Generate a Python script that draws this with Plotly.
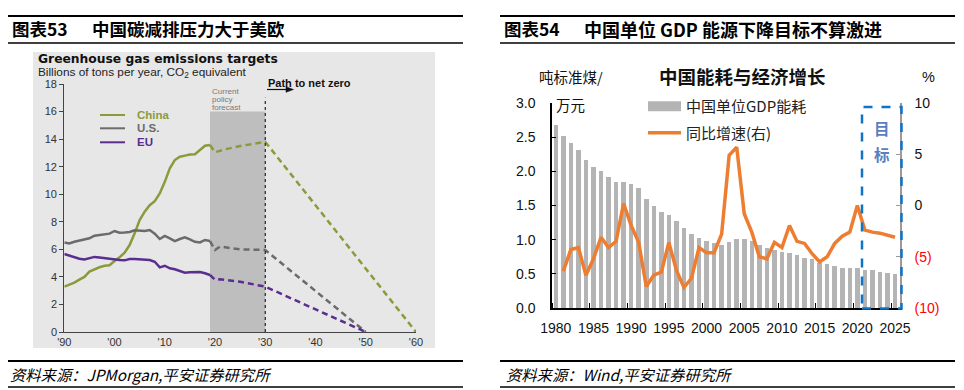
import plotly.graph_objects as go

W, H = 964, 390
def px(x): return x / W
def py(y): return 1 - y / H

# ---------------- Left chart data (Greenhouse gas emissions) ----------------
hist_years = list(range(1990, 2020))
china_hist = [3.29, 3.45, 3.58, 3.8, 4.0, 4.38, 4.55, 4.7, 4.81, 4.85,
              5.15, 5.42, 5.76, 6.31, 7.16, 8.13, 8.73, 9.2, 9.5, 10.06,
              10.9, 11.88, 12.48, 12.72, 12.8, 12.88, 12.9, 13.2, 13.52, 13.57]
us_hist = [6.5, 6.42, 6.55, 6.65, 6.72, 6.8, 6.99, 7.03, 7.08, 7.14,
           7.33, 7.2, 7.22, 7.26, 7.38, 7.38, 7.33, 7.4, 7.14, 6.75,
           6.97, 6.8, 6.6, 6.75, 6.87, 6.72, 6.55, 6.5, 6.68, 6.6]
eu_hist = [5.66, 5.55, 5.42, 5.32, 5.27, 5.35, 5.45, 5.4, 5.35, 5.27,
           5.22, 5.22, 5.2, 5.3, 5.3, 5.27, 5.27, 5.22, 5.1, 4.69,
           4.81, 4.62, 4.55, 4.45, 4.3, 4.33, 4.35, 4.35, 4.26, 4.14]
china_fc_years = [2019, 2020, 2022, 2025, 2030, 2060]
china_fc = [13.57, 13.05, 13.26, 13.5, 13.8, 0]
us_fc_years = [2019, 2020, 2021, 2025, 2030, 2050]
us_fc = [6.6, 5.95, 6.2, 6.0, 5.95, 0]
eu_fc_years = [2019, 2020, 2021, 2025, 2030, 2050]
eu_fc = [4.14, 3.8, 3.82, 3.65, 3.29, 0]
left_xticks = [1990, 2000, 2010, 2020, 2030, 2040, 2050, 2060]
left_xticklabels = ["'90", "'00", "'10", "'20", "'30", "'40", "'50", "'60"]
left_yticks = [0, 2, 4, 6, 8, 10, 12, 14, 16, 18]

# ---------------- Right chart data (energy intensity) ----------------
years = list(range(1980, 2026))
energy = [2.68, 2.52, 2.41, 2.31, 2.16, 2.06, 2.00, 1.92, 1.85, 1.85,
          1.81, 1.75, 1.60, 1.50, 1.40, 1.36, 1.27, 1.17, 1.09, 1.03,
          0.98, 0.95, 0.92, 0.97, 1.01, 1.01, 0.98, 0.92, 0.885, 0.85,
          0.82, 0.80, 0.77, 0.73, 0.71, 0.66, 0.64, 0.61, 0.59, 0.58,
          0.58, 0.56, 0.555, 0.53, 0.515, 0.50]
growth_years = list(range(1981, 2026))
growth = [-6.4, -4.3, -4.1, -6.8, -5.2, -3.1, -4.1, -3.5, 0.2,
          -1.95, -3.6, -7.9, -6.8, -6.5, -3.6, -6.3, -8.0, -7.1, -4.1,
          -4.6, -4.6, -2.8, 4.9, 5.7, -0.8, -2.6, -5.0, -5.2, -3.6,
          -4.1, -1.95, -3.5, -3.7, -4.7, -5.5, -5.0, -3.7, -3.0, -2.6,
          0.0, -2.4, -2.6, -2.7, -2.9, -3.1]
right_xticks = list(range(1980, 2026, 5))
left2_yticks = [0, 0.5, 1.0, 1.5, 2.0, 2.5, 3.0]
right_yticks = [10, 5, 0, -5, -10]
right_yticklabels = ["10", "5", "0",
                     '<span style="color:#FF0000">(5)</span>',
                     '<span style="color:#FF0000">(10)</span>']

C_CHINA = "#8C9A3C"
C_US = "#6B6B6B"
C_EU = "#5A2D8F"
CJK = "Noto Sans CJK SC"
ARIAL = "Liberation Sans, Arial"
DEJA = "DejaVu Sans"

fig = go.Figure()

# Left chart traces
for yrs, vals, col in [(hist_years, china_hist, C_CHINA),
                       (hist_years, us_hist, C_US),
                       (hist_years, eu_hist, C_EU)]:
    fig.add_trace(go.Scatter(x=yrs, y=vals, mode="lines", xaxis="x", yaxis="y",
                             line=dict(color=col, width=2.5), showlegend=False,
                             hoverinfo="skip"))
for yrs, vals, col in [(china_fc_years, china_fc, C_CHINA),
                       (us_fc_years, us_fc, C_US),
                       (eu_fc_years, eu_fc, C_EU)]:
    fig.add_trace(go.Scatter(x=yrs, y=vals, mode="lines", xaxis="x", yaxis="y",
                             line=dict(color=col, width=2.5, dash="6px,4px"),
                             showlegend=False, hoverinfo="skip"))

# Right chart traces
fig.add_trace(go.Bar(x=years, y=energy, xaxis="x2", yaxis="y2", width=0.6,
                     marker=dict(color="#B4B4B4", line=dict(width=0)),
                     showlegend=False, hoverinfo="skip"))
fig.add_trace(go.Scatter(x=[None], y=[None], mode="lines", xaxis="x2", yaxis="y2",
                         line=dict(color="#B4B4B4", width=10),
                         name="中国单位GDP能耗", legendgroup="a"))
fig.add_trace(go.Scatter(x=growth_years, y=growth, mode="lines", xaxis="x2", yaxis="y3",
                         line=dict(color="#ED7D31", width=3.5),
                         name="同比增速(右)", legendgroup="b", hoverinfo="skip"))

shapes = []
# left grey panel background
shapes.append(dict(type="rect", xref="paper", yref="paper", x0=px(33), x1=px(435),
                   y0=py(348), y1=py(52), fillcolor="#E7E7E7", line=dict(width=0),
                   layer="below"))
# forecast shading
shapes.append(dict(type="rect", xref="x", yref="y", x0=2019, x1=2030, y0=0, y1=16,
                   fillcolor="#BEBEBE", line=dict(width=0), layer="below"))
# dotted line at 2030
shapes.append(dict(type="line", xref="x", yref="y", x0=2030, x1=2030, y0=0, y1=17,
                   line=dict(color="#222", width=1.2, dash="dot")))
# "path to net zero" arrow
shapes.append(dict(type="line", xref="paper", yref="paper", x0=px(267), x1=px(287),
                   y0=py(89.5), y1=py(89.5), line=dict(color="#111", width=1.2)))
shapes.append(dict(type="path", xref="paper", yref="paper",
                   path=f"M {px(286)} {py(86.7)} L {px(293.5)} {py(89.5)} L {px(286)} {py(92.3)} Z",
                   fillcolor="#111", line=dict(color="#111", width=0.5)))
# left legend lines
for yy, col in [(115, C_CHINA), (128.3, C_US), (142.3, C_EU)]:
    shapes.append(dict(type="line", xref="paper", yref="paper", x0=px(100), x1=px(125),
                       y0=py(yy), y1=py(yy), line=dict(color=col, width=2)))
# header / footer rules
for x0, x1 in [(8, 463), (500, 955)]:
    shapes.append(dict(type="line", xref="paper", yref="paper", x0=px(x0), x1=px(x1),
                       y0=py(16), y1=py(16), line=dict(color="#000", width=2)))
    shapes.append(dict(type="line", xref="paper", yref="paper", x0=px(x0), x1=px(x1),
                       y0=py(43), y1=py(43), line=dict(color="#000", width=1.5)))
    shapes.append(dict(type="line", xref="paper", yref="paper", x0=px(x0), x1=px(x1),
                       y0=py(361), y1=py(361), line=dict(color="#000", width=2)))
    shapes.append(dict(type="line", xref="paper", yref="paper", x0=px(x0), x1=px(x1),
                       y0=py(387), y1=py(387), line=dict(color="#000", width=1.5)))
# blue dashed target box
shapes.append(dict(type="rect", xref="paper", yref="paper", x0=px(862), x1=px(901.5),
                   y0=py(308.5), y1=py(107), line=dict(color="#0F74C6", width=2.5, dash="dash"),
                   fillcolor="rgba(0,0,0,0)"))

ann = []
def text(x, y, s, size, color="#000", family=CJK, xanchor="left", yanchor="middle"):
    ann.append(dict(xref="paper", yref="paper", x=px(x), y=py(y), text=s, showarrow=False,
                    font=dict(size=size, color=color, family=family),
                    xanchor=xanchor, yanchor=yanchor))

# headers
text(10, 29, "<b>图表53</b>", 17.5)
text(90, 29, "<b>中国碳减排压力大于美欧</b>", 17.5)
text(502, 29, "<b>图表54</b>", 17.5)
text(582, 29, "<b>中国单位 GDP 能源下降目标不算激进</b>", 18)
# footers
text(8, 374, "<i>资料来源：JPMorgan,平安证券研究所</i>", 15.3)
text(504, 374, "<i>资料来源：Wind,平安证券研究所</i>", 15.3)

# left chart texts
text(36, 59, "<b>Greenhouse gas emissions targets</b>", 12.3, "#111", DEJA)
text(36, 72, "Billions of tons per year, CO<sub>2</sub> equivalent", 11.8, "#222", ARIAL)
text(210, 91.5, "Current", 8, "#777", ARIAL)
text(210, 99.5, "policy", 8, "#777", ARIAL)
text(210, 107.5, "forecast", 8, "#777", ARIAL)
text(266, 83, "<b>Path to net zero</b>", 11, "#111", ARIAL)
text(135, 115, "<b>China</b>", 11.5, C_CHINA, ARIAL)
text(135, 128.3, "<b>U.S.</b>", 11.5, C_US, ARIAL)
text(135, 142.3, "<b>EU</b>", 11.5, C_EU, ARIAL)

# right chart texts
text(742, 76, "<b>中国能耗与经济增长</b>", 18.5, "#111", CJK, xanchor="center")
text(537, 77, "吨标准煤/", 14.5, "#111")
text(554, 105, "万元", 14.5, "#111")
text(928, 77, "%", 14.5, "#111", ARIAL, xanchor="center")
text(882, 128, "<b>目</b>", 15.5, "#5A7FBE", CJK, xanchor="center")
text(882, 154, "<b>标</b>", 15.5, "#5A7FBE", CJK, xanchor="center")

fig.update_layout(
    width=W, height=H, margin=dict(l=0, r=0, t=0, b=0, pad=0, autoexpand=False),
    paper_bgcolor="white", plot_bgcolor="rgba(0,0,0,0)",
    shapes=shapes, annotations=ann,
    bargap=0,
    legend=dict(x=px(643), y=py(90), xanchor="left", yanchor="top",
                bgcolor="rgba(0,0,0,0)", font=dict(size=15, family=CJK, color="#222"),
                tracegroupgap=4, itemwidth=33),
    xaxis=dict(domain=[px(64.3), px(416)], range=[1990, 2060], anchor="y",
               tickvals=left_xticks, ticktext=left_xticklabels, automargin=False,
               showline=True, linecolor="#444", linewidth=1.2, ticks="",
               showgrid=False, zeroline=False,
               tickfont=dict(size=11, color="#333", family=ARIAL)),
    yaxis=dict(domain=[py(332), py(84)], range=[0, 18], anchor="x", automargin=False,
               tickvals=left_yticks, showline=True, linecolor="#444", linewidth=1.2,
               ticks="outside", ticklen=4, tickcolor="#444",
               showgrid=False, zeroline=False,
               tickfont=dict(size=11, color="#333", family=ARIAL)),
    xaxis2=dict(domain=[px(552), px(900)], range=[1979.5, 2025.66], anchor="y2",
                tickvals=right_xticks, ticks="", showline=True, linecolor="#000",
                linewidth=1.5, showgrid=False, zeroline=False, ticklabelstandoff=6,
                automargin=False,
                minor=dict(tick0=1979.5, dtick=5, ticks="inside", ticklen=5,
                           tickcolor="#000", showgrid=False),
                tickfont=dict(size=14, color="#111", family=ARIAL)),
    yaxis2=dict(domain=[py(308), py(103)], range=[0, 3], anchor="x2", automargin=False,
                tickvals=left2_yticks, tickformat=".1f", showline=True, linecolor="#000",
                linewidth=1.5, ticks="inside", ticklen=4, tickcolor="#000",
                showgrid=False, zeroline=False, ticklabelstandoff=12,
                tickfont=dict(size=14, color="#111", family=ARIAL)),
    yaxis3=dict(domain=[py(308), py(103)], range=[-10, 10], anchor="x2",
                overlaying="y2", side="right", automargin=False,
                tickvals=right_yticks, ticktext=right_yticklabels, showline=True,
                linecolor="#9A9A9A", linewidth=1.5, ticks="inside", ticklen=4,
                tickcolor="#9A9A9A", showgrid=False, zeroline=False,
                ticklabelstandoff=10,
                tickfont=dict(size=14, color="#111", family=ARIAL)),
)

fig.write_html("out.html", config={"displayModeBar": False},
               post_script="document.body.style.margin='0';document.body.style.overflow='hidden';")
